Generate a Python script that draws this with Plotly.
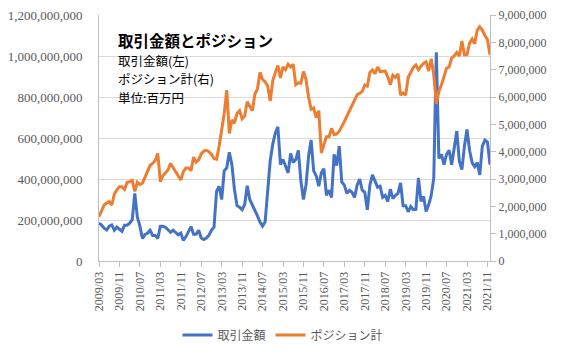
import plotly.graph_objects as go
import numpy as np

# months 2009/03 .. 2021/12
months = []
y, m = 2009, 3
for _ in range(154):
    months.append(f"{y}/{m:02d}")
    m += 1
    if m > 12:
        m = 1
        y += 1

tick_labels = months[::8]

# 取引金額 (million units, left axis)
trade_m = [
    185,175,160,152,170,176,150,165,155,145,175,175,185,200,
    330,215,170,110,130,135,150,125,125,110,170,170,165,150,
    140,150,140,128,136,100,118,145,168,130,130,150,112,105,
    112,125,150,165,340,365,300,440,455,530,470,350,270,262,
    250,275,367,300,275,250,220,190,170,190,360,490,570,625,
    655,470,495,465,430,525,480,495,540,390,300,370,510,590,
    440,415,365,430,450,320,345,310,520,465,560,385,370,330,
    345,335,310,370,400,345,335,250,370,420,390,360,365,310,
    320,290,350,305,320,330,381,270,270,240,266,250,252,405,
    291,315,242,274,320,405,1018,500,520,470,520,540,470,550,
    634,487,446,560,642,540,480,460,480,420,560,590,580,470,
]

# ポジション計 (millions, right axis)
position_m = [
    1.62,1.85,2.05,2.12,2.17,2.05,2.45,2.60,2.72,2.72,2.62,2.88,2.90,2.95,
    2.55,2.88,2.80,2.85,3.05,3.30,3.50,3.57,3.68,3.94,2.90,3.12,3.22,3.33,
    3.57,3.42,3.28,3.08,2.96,3.27,3.40,3.40,3.30,3.80,3.62,3.70,3.92,4.02,
    4.05,4.00,3.90,3.75,3.72,4.20,4.80,5.40,6.25,4.67,5.16,5.04,5.40,5.50,
    5.20,5.30,5.83,5.65,5.50,6.10,6.30,6.90,6.65,6.55,6.40,5.85,6.60,6.90,
    7.15,6.70,7.10,7.00,7.20,7.10,7.20,6.45,6.52,6.50,6.93,6.65,6.00,5.55,
    5.60,5.25,5.50,3.95,4.25,4.55,4.55,4.85,4.62,4.65,4.75,4.90,5.10,5.30,
    5.50,5.68,5.85,6.08,6.14,6.20,6.44,6.40,6.90,6.99,6.85,7.10,6.93,6.93,
    6.95,6.74,6.45,6.80,6.72,6.85,6.07,6.15,6.07,6.72,6.90,7.08,7.17,7.00,
    7.12,7.23,7.29,6.95,7.40,6.80,5.75,6.20,6.45,6.74,7.05,7.10,7.42,7.50,
    7.63,7.50,8.05,7.55,7.55,7.97,8.12,7.95,8.45,8.57,8.45,8.25,8.10,7.55,
]

trade = np.array(trade_m) * 1e6
position = np.array(position_m) * 1e6

BLUE = "#4472C4"
ORANGE = "#ED7D31"
GRAY = "#595959"
SERIF = "Liberation Serif"
JP = "Noto Sans CJK JP"

fig = go.Figure()
fig.add_trace(go.Scatter(x=months, y=trade, name="取引金額", mode="lines",
                         line=dict(color=BLUE, width=3), yaxis="y"))
fig.add_trace(go.Scatter(x=months, y=position, name="ポジション計", mode="lines",
                         line=dict(color=ORANGE, width=3), yaxis="y2"))

# the page body adds an 8px offset; figure coordinates compensate for it
W, H = 568, 356
L, R, T, B = 91, 86, 7, 103
plot_w = W - L - R
plot_h = H - T - B

fig.update_layout(
    width=W, height=H,
    margin=dict(l=L, r=R, t=T, b=B, autoexpand=False),
    paper_bgcolor="white", plot_bgcolor="white",
    showlegend=True,
    legend=dict(orientation="h", xref="container", x=275 / W, xanchor="center",
                yref="container", y=1 - 327 / H, yanchor="middle",
                font=dict(family=JP, size=12, color=GRAY),
                itemwidth=30, tracegroupgap=0),
    xaxis=dict(type="category", categoryorder="array", categoryarray=months,
               range=[0, len(months) - 1], automargin=False,
               tickmode="array", tickvals=tick_labels, ticktext=tick_labels,
               tickangle=-90, tickfont=dict(family=SERIF, size=12, color=GRAY),
               ticks="outside", ticklen=5, tickcolor="#BFBFBF",
               ticklabeloverflow="allow",
               showline=True, linecolor="#BFBFBF", linewidth=1,
               showgrid=False, zeroline=False),
    yaxis=dict(range=[0, 1.2e9], dtick=2e8, tickformat=",d", automargin=False,
               tickfont=dict(family=SERIF, size=13, color=GRAY),
               showgrid=True, gridcolor="#D9D9D9", gridwidth=1,
               showline=True, linecolor="#BFBFBF", linewidth=1,
               ticklabeloverflow="allow",
               ticks="", ticklabelstandoff=13, zeroline=False),
    yaxis2=dict(range=[0, 9e6], dtick=1e6, tickformat=",d", overlaying="y",
                side="right", automargin=False,
                tickfont=dict(family=SERIF, size=12, color=GRAY),
                ticklabeloverflow="allow",
                showgrid=False, showline=True, linecolor="#BFBFBF", linewidth=1,
                ticks="outside", ticklen=5, tickcolor="#BFBFBF", zeroline=False),
)

notes = [
    ("<b>取引金額とポジション</b>", 31.5, 15.5),
    ("取引金額(左)", 52, 12.5),
    ("ポジション計(右)", 70.5, 12.5),
    ("単位:百万円", 89, 12.5),
]
for text, fy, size in notes:
    fig.add_annotation(text=text, xref="paper", yref="paper",
                       x=(108 - L) / plot_w, y=(H - B - fy) / plot_h,
                       xanchor="left", yanchor="middle", showarrow=False,
                       font=dict(family=JP, size=size, color="black"))

fig.write_html("out.html")
